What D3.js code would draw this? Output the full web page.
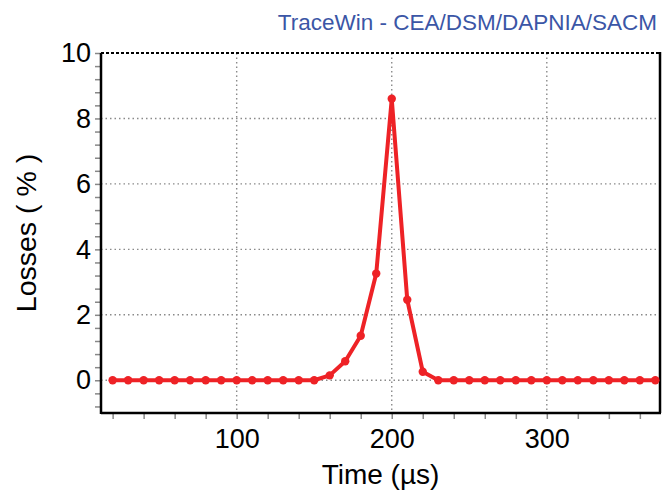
<!DOCTYPE html>
<html>
<head>
<meta charset="utf-8">
<script src="https://cdn.jsdelivr.net/npm/d3@7"></script>
<style>
  html, body { margin: 0; padding: 0; background: #fff; }
  svg { display: block; font-family: "Liberation Sans", Arial, sans-serif; }
</style>
</head>
<body>
<svg id="chart" width="662" height="495"></svg>
<script>
// Beam losses versus time
const times = [20, 30, 40, 50, 60, 70, 80, 90, 100, 110, 120, 130, 140, 150,
               160, 170, 180, 190, 200, 210, 220,
               230, 240, 250, 260, 270, 280, 290, 300, 310, 320, 330, 340, 350, 360, 370];
const losses = [0, 0, 0, 0, 0, 0, 0, 0, 0, 0, 0, 0, 0, 0,
                0.15, 0.58, 1.36, 3.26, 8.6, 2.46, 0.26,
                0, 0, 0, 0, 0, 0, 0, 0, 0, 0, 0, 0, 0, 0, 0];
const xLabelTicks = [100, 200, 300];
const yLabelTicks = [0, 2, 4, 6, 8, 10];
const xGridTicks = [100, 200, 300];
const yGridTicks = [0, 2, 4, 6, 8];
const xMinorTicks = d3.range(20, 361, 20);
const yMinorTicks = d3.range(-0.8, 10.01, 0.4).map(v => +v.toFixed(1));

const title = "TraceWin - CEA/DSM/DAPNIA/SACM";
const xTitle = "Time (\u00b5s)";
const yTitle = "Losses ( % )";

const plot = { left: 101, right: 660, top: 53, bottom: 413 };
const svg = d3.select("#chart");

const x = d3.scaleLinear().domain([12.5, 373]).range([plot.left, plot.right]);
const y = d3.scaleLinear().domain([-1, 10]).range([plot.bottom, plot.top]);

// dotted grid
const grid = svg.append("g").attr("stroke", "#8a8a8a").attr("stroke-width", 1.4)
  .attr("stroke-dasharray", "1.5,3");
grid.selectAll("line.gx").data(xGridTicks).join("line")
  .attr("x1", d => x(d)).attr("x2", d => x(d))
  .attr("y1", plot.top).attr("y2", plot.bottom);
grid.selectAll("line.gy").data(yGridTicks).join("line")
  .attr("x1", plot.left).attr("x2", plot.right)
  .attr("y1", d => y(d)).attr("y2", d => y(d));

// minor tick marks (grey)
const xMinor = svg.append("g").attr("transform", `translate(0,${plot.bottom})`)
  .call(d3.axisBottom(x).tickValues(xMinorTicks).tickSize(6).tickFormat(""));
xMinor.select(".domain").remove();
xMinor.selectAll(".tick line").attr("stroke", "#888").attr("stroke-width", 1.5);

const yMinor = svg.append("g").attr("transform", `translate(${plot.left},0)`)
  .call(d3.axisLeft(y).tickValues(yMinorTicks).tickSize(6).tickFormat(""));
yMinor.select(".domain").remove();
yMinor.selectAll(".tick line").attr("stroke", "#888").attr("stroke-width", 1.5);

// tick labels
const xLab = svg.append("g").attr("transform", `translate(0,${plot.bottom})`)
  .call(d3.axisBottom(x).tickValues(xLabelTicks).tickSize(0).tickPadding(16).tickFormat(d3.format("d")));
xLab.select(".domain").remove();
xLab.selectAll("text").attr("font-size", 27).attr("fill", "#000")
  .attr("font-family", "Liberation Sans, Arial, sans-serif");

const yLab = svg.append("g").attr("transform", `translate(${plot.left},0)`)
  .call(d3.axisLeft(y).tickValues(yLabelTicks).tickSize(0).tickPadding(10).tickFormat(d3.format("d")));
yLab.select(".domain").remove();
yLab.selectAll("text").attr("font-size", 27).attr("fill", "#000")
  .attr("font-family", "Liberation Sans, Arial, sans-serif");

// frame
svg.append("line").attr("x1", plot.left).attr("x2", plot.right)
  .attr("y1", plot.top).attr("y2", plot.top)
  .attr("stroke", "#000").attr("stroke-width", 2.2).attr("stroke-dasharray", "3,2");
svg.append("line").attr("x1", plot.right).attr("x2", plot.right)
  .attr("y1", plot.top - 1).attr("y2", plot.bottom)
  .attr("stroke", "#000").attr("stroke-width", 2.5);
svg.append("line").attr("x1", plot.left).attr("x2", plot.left)
  .attr("y1", plot.top).attr("y2", plot.bottom + 1)
  .attr("stroke", "#000").attr("stroke-width", 2.5);
svg.append("line").attr("x1", plot.left).attr("x2", plot.right + 1)
  .attr("y1", plot.bottom).attr("y2", plot.bottom)
  .attr("stroke", "#000").attr("stroke-width", 2.5);

// series
const pts = times.map((t, i) => [t, losses[i]]);
const line = d3.line().x(d => x(d[0])).y(d => y(d[1]));
svg.append("path").datum(pts).attr("d", line)
  .attr("fill", "none").attr("stroke", "#ee2226").attr("stroke-width", 4)
  .attr("stroke-linejoin", "round");
svg.append("g").selectAll("circle").data(pts).join("circle")
  .attr("cx", d => x(d[0])).attr("cy", d => y(d[1])).attr("r", 4.2)
  .attr("fill", "#ee2226");

// titles
svg.append("text").attr("x", 657).attr("y", 30).attr("text-anchor", "end")
  .attr("font-size", 22.5).attr("fill", "#3b56a6").text(title);
svg.append("text").attr("x", (plot.left + plot.right) / 2).attr("y", 484)
  .attr("text-anchor", "middle").attr("font-size", 28).attr("fill", "#000").text(xTitle);
svg.append("text").attr("transform", `translate(36,${(plot.top + plot.bottom) / 2}) rotate(-90)`)
  .attr("text-anchor", "middle").attr("font-size", 28.5).attr("fill", "#000").text(yTitle);
</script>
</body>
</html>
